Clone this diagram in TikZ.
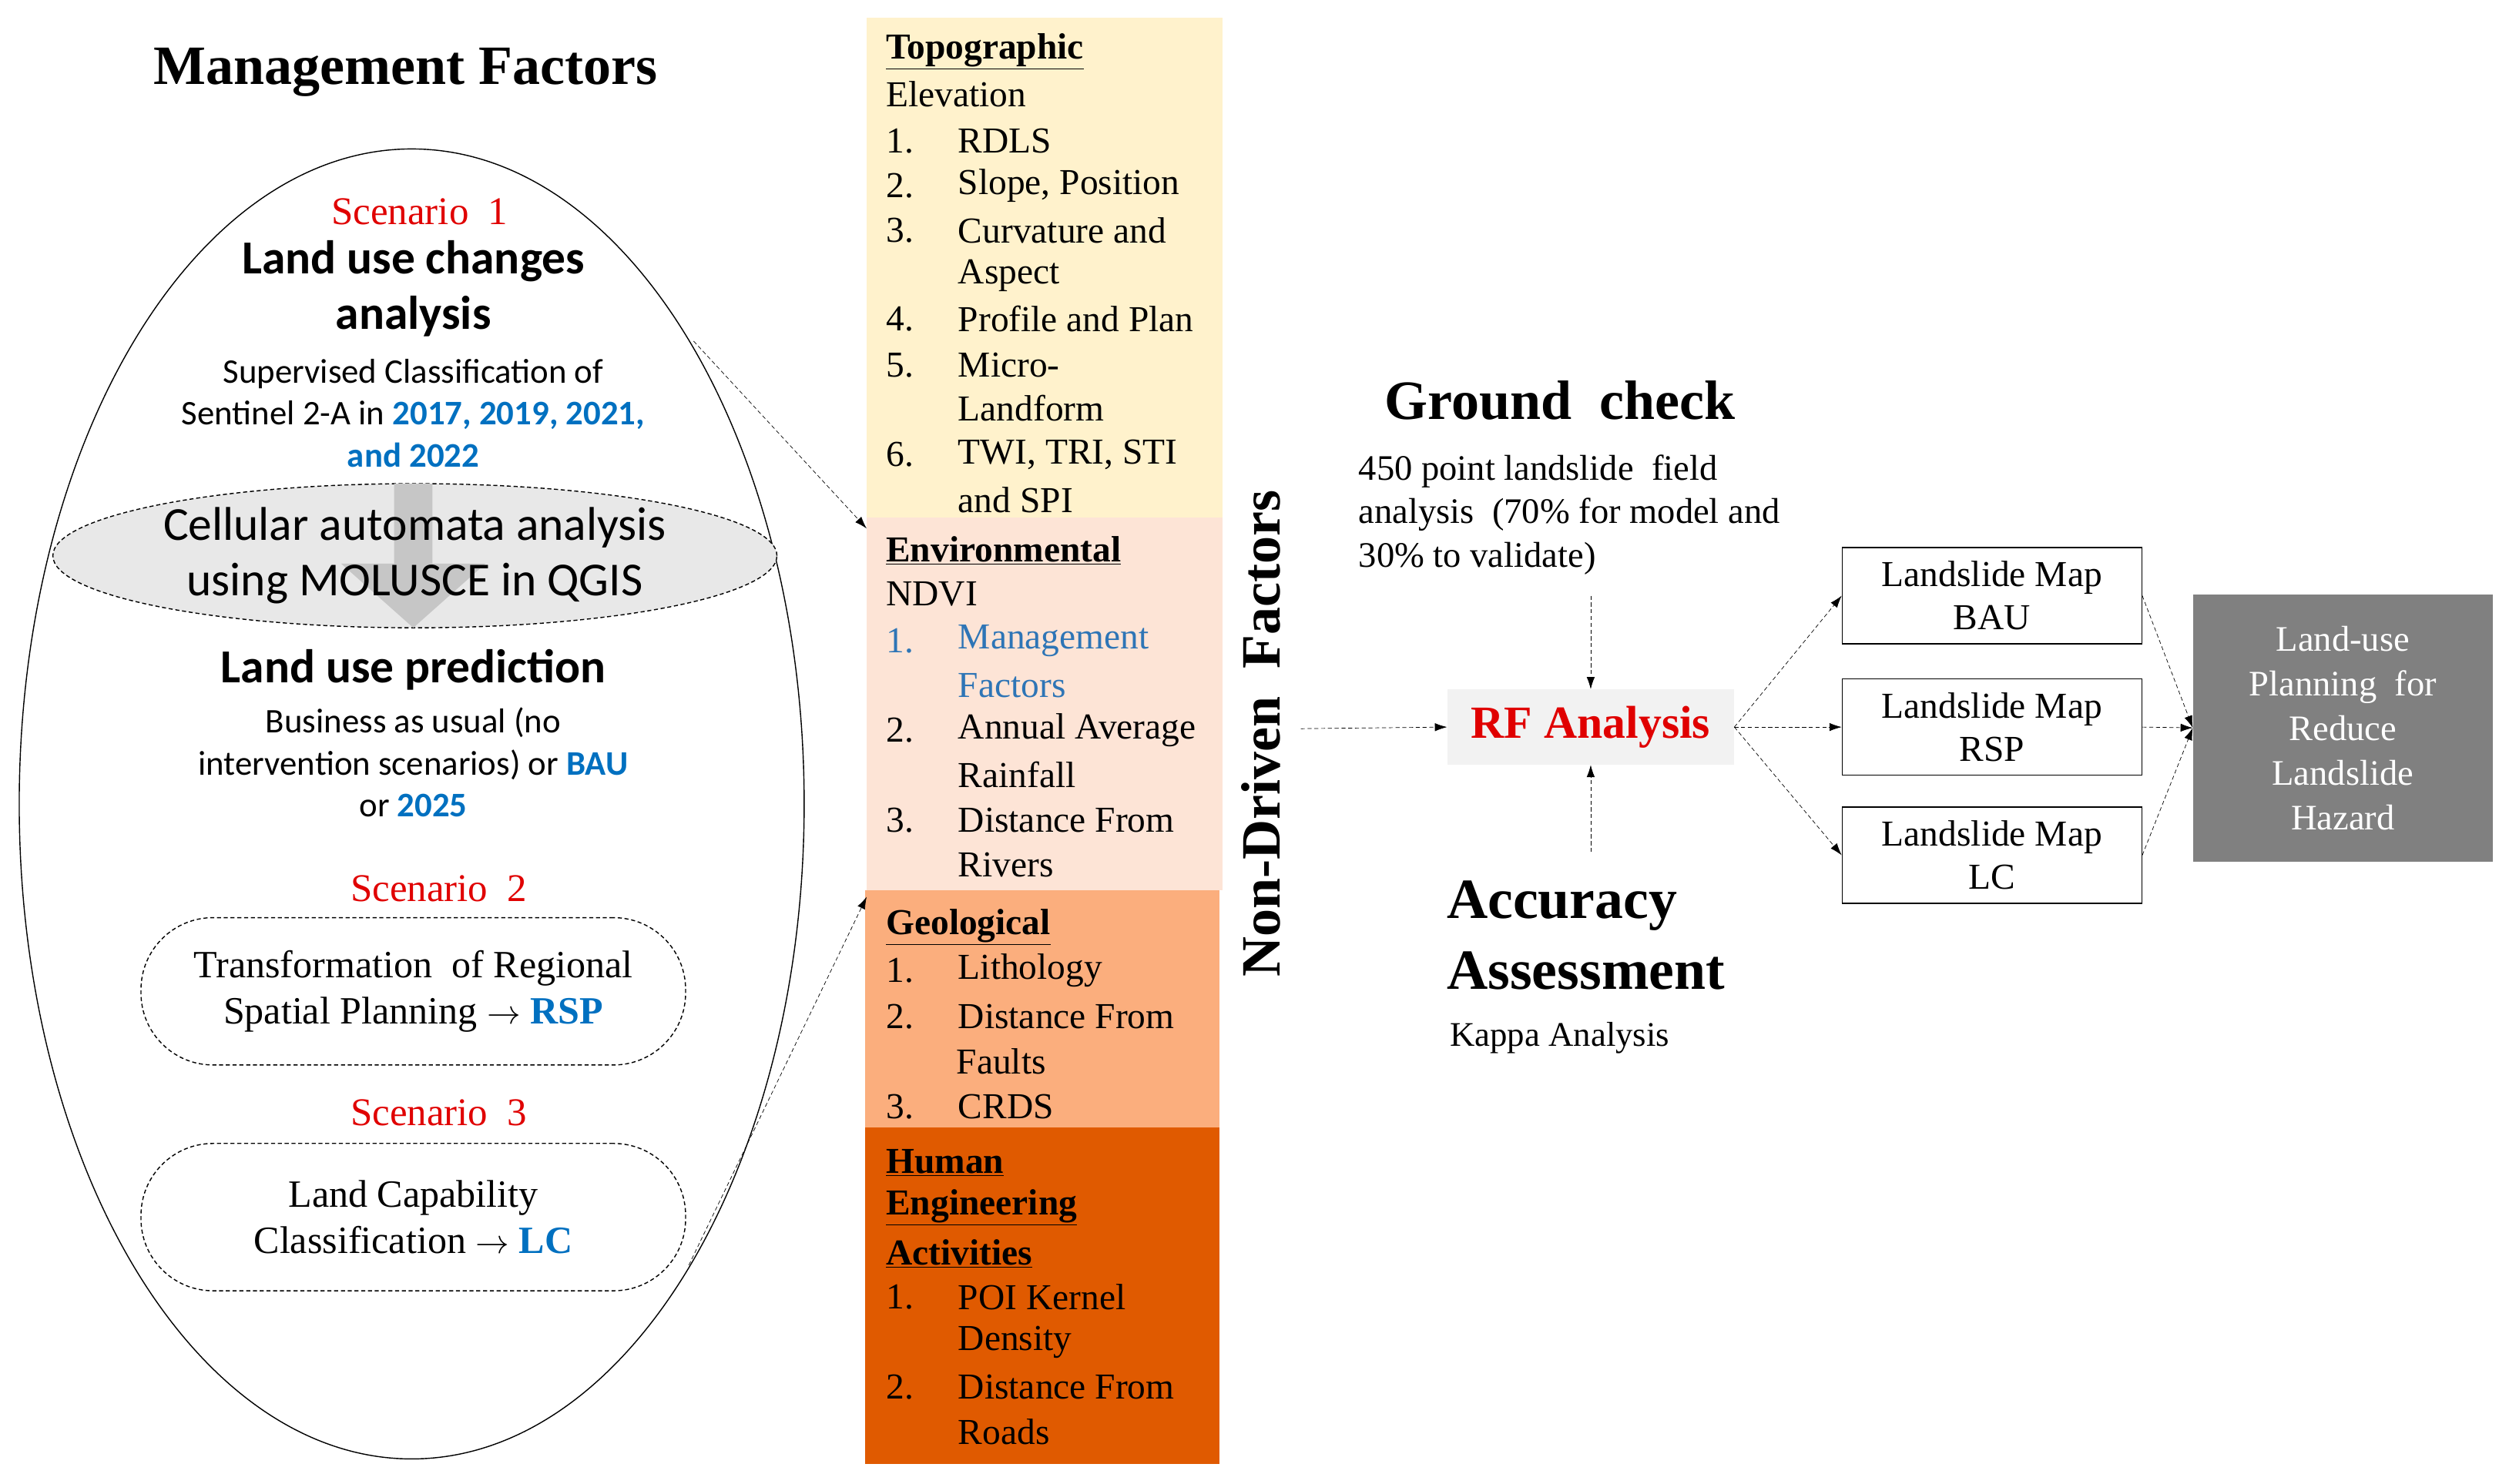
\documentclass[tikz,border=0pt]{standalone}
\usepackage{fontspec}
\setmainfont{Liberation Serif}
\newfontfamily\carl{Carlito}
\usetikzlibrary{arrows.meta,shapes.geometric}
\definecolor{topo}{HTML}{FFF2CC}
\definecolor{envc}{HTML}{FDE4D6}
\definecolor{geoc}{HTML}{FBAE7D}
\definecolor{humc}{HTML}{E05A00}
\definecolor{bl}{HTML}{0070C0}
\definecolor{bl2}{HTML}{2E75B6}
\definecolor{rd}{HTML}{E00000}
\begin{document}
\begin{tikzpicture}[x=0.04159cm,y=-0.04159cm,
  t/.style={inner sep=0pt,font=\fontsize{27}{33}\selectfont},
  lt/.style={t,anchor=west},
  cc/.style={inner sep=0pt,align=center,font=\carl\fontsize{25.5}{31}\selectfont},
  big/.style={inner sep=0pt,font=\fontsize{41}{48}\selectfont\bfseries},
  dar/.style={densely dashed,thin,-{Latex[length=9pt,width=6pt]}},
  lm/.style={draw,thick,minimum width=187*0.04159cm,minimum height=60*0.04159cm,align=center,inner sep=0pt,font=\fontsize{27}{32}\selectfont}]
\useasboundingbox (0,0) rectangle (1560,926.6);
% title
\node[big] (mt) at (253,45) {Management\ Factors};
% big ellipse
\node[draw,thick,ellipse,minimum width=490*0.04159cm,minimum height=818*0.04159cm] (bigell) at (257,502) {};
\node[t,text=rd,font=\fontsize{29}{33}\selectfont] (s1) at (262,132) {Scenario\ \ 1};
\node[cc,font=\carl\bfseries\fontsize{35}{41}\selectfont] (luc) at (258,180) {Land use changes\\analysis};
\node[cc] (sup) at (258,258) {Supervised Classification of\\Sentinel 2-A in \textcolor{bl}{\bfseries 2017, 2019, 2021,}\\\textcolor{bl}{\bfseries and 2022}};
\node[draw,densely dashed,thick,ellipse,fill=gray!18,minimum width=452*0.04159cm,minimum height=90*0.04159cm] (ca) at (259,347) {};
\fill[gray!45] (246,302) -- (270,302) -- (270,352) -- (303,352) -- (258,392) -- (213,352) -- (246,352) -- cycle;
\node[cc,font=\carl\fontsize{35}{41}\selectfont] (cat) at (259,347) {Cellular automata analysis\\using MOLUSCE in QGIS};
\node[cc,font=\carl\bfseries\fontsize{35}{41}\selectfont] (lup) at (258,418) {Land use prediction};
\node[cc] (bau) at (258,476) {Business as usual (no\\intervention scenarios) or \textcolor{bl}{\bfseries BAU}\\or \textcolor{bl}{\bfseries 2025}};
\node[t,text=rd,font=\fontsize{29}{33}\selectfont] (s2) at (274,555) {Scenario\ \ 2};
\node[draw,densely dashed,thick,rounded corners=45*0.04159cm,minimum width=340*0.04159cm,minimum height=92*0.04159cm,align=center,inner sep=0pt,font=\fontsize{28.5}{34}\selectfont] (rsp) at (258,619) {Transformation\ \ of Regional\\Spatial Planning $\rightarrow$ \textcolor{bl}{\textbf{RSP}}};
\node[t,text=rd,font=\fontsize{29}{33}\selectfont] (s3) at (274,695) {Scenario\ \ 3};
\node[draw,densely dashed,thick,rounded corners=45*0.04159cm,minimum width=340*0.04159cm,minimum height=92*0.04159cm,align=center,inner sep=0pt,font=\fontsize{28.5}{34}\selectfont] (lc) at (258,760) {Land Capability\\Classification $\rightarrow$ \textcolor{bl}{\textbf{LC}}};
% column
\fill[topo] (541,11) rectangle (763,323);
\fill[envc] (541,323) rectangle (763,556);
\fill[geoc] (540,556) rectangle (761,704);
\fill[humc] (540,704) rectangle (761,914);
\coordinate (topoW) at (541,330);
\coordinate (geoW) at (541,560);
\newcommand\hd[3]{\node[lt,font=\fontsize{27}{33}\selectfont\bfseries] (#1) at (553,#2) {\underline{#3}};}
\newcommand\itm[4]{\node[lt] (#1n) at (553,#2) {#3}; \node[lt] (#1t) at (598,#2) {#4};}
\newcommand\ct[3]{\node[lt] (#1) at (598,#2) {#3};}
\hd{h1}{32}{Topographic}
\node[lt] (elev) at (553,59) {Elevation};
\itm{a1}{88}{1.}{RDLS}
\itm{a2}{116}{2.}{Slope, Position}
\itm{a3}{144}{3.}{Curvature and}
\ct{a3b}{172}{Aspect}
\itm{a4}{199}{4.}{Profile and Plan}
\itm{a5}{228}{5.}{Micro-}
\ct{a5b}{255}{Landform}
\itm{a6}{284}{6.}{TWI, TRI, STI}
\ct{a6b}{312}{and SPI}
\hd{h2}{344}{Environmental}
\node[lt] (ndvi) at (553,371) {NDVI};
\node[lt,text=bl2] (b1n) at (553,400) {1.};
\node[lt,text=bl2] (b1t) at (598,400) {Management};
\node[lt,text=bl2] (b1b) at (598,428) {Factors};
\itm{b2}{456}{2.}{Annual Average}
\ct{b2b}{484}{Rainfall}
\itm{b3}{512}{3.}{Distance From}
\ct{b3b}{540}{Rivers}
\hd{h3}{579}{Geological}
\itm{c1}{606}{1.}{Lithology}
\itm{c2}{635}{2.}{Distance From}
\node[lt] (c2b) at (597,663) {Faults};
\itm{c3}{691}{3.}{CRDS}
\hd{h4}{726}{Human}
\hd{h4b}{754}{Engineering}
\hd{h4c}{783}{Activities}
\itm{d1}{810}{1.}{POI Kernel}
\ct{d1b}{838}{Density}
\itm{d2}{866}{2.}{Distance From}
\ct{d2b}{894}{Roads}
\node[big,rotate=90] (ndf) at (787,458) {Non-Driven\ \ Factors};
% right part
\node[big] (gc) at (974,250) {Ground\ \ check};
\node[t,anchor=north west,align=left,font=\fontsize{26.5}{32}\selectfont] (gct) at (848,284) {450 point landslide\ \ field\\analysis\ \ (70\% for model and\\30\% to validate)};
\node[fill=gray!10,minimum width=179*0.04159cm,minimum height=47*0.04159cm,inner sep=0pt,font=\fontsize{34}{38}\selectfont\bfseries,text=rd] (rf) at (993,454) {RF Analysis};
\node[big,anchor=west,align=left,font=\fontsize{42}{52}\selectfont\bfseries] (acc) at (903,584) {Accuracy\\Assessment};
\node[t,anchor=west,font=\fontsize{25.5}{30}\selectfont] (kap) at (905,648) {Kappa Analysis};
\coordinate (gcb) at (993,372);
\coordinate (accT) at (993,532);
\coordinate (ndfR) at (812,455);
\node[lm] (m1) at (1243.5,372) {Landslide Map\\BAU};
\node[lm] (m2) at (1243.5,454) {Landslide Map\\RSP};
\node[lm] (m3) at (1243.5,534) {Landslide Map\\LC};
\node[fill=black!50,minimum width=187*0.04159cm,minimum height=167*0.04159cm,inner sep=0pt,align=center,text=white,font=\fontsize{26.5}{33}\selectfont] (fin) at (1462.5,454.5) {Land-use\\Planning\ \ for\\Reduce\\Landslide\\Hazard};
% connectors
\draw[dar] (433,213) -- (topoW);
\draw[dar] (430,790) -- (geoW);
\draw[dar] (ndfR) -- (rf.west);
\draw[dar] (gcb) -- (rf.north);
\draw[dar] (accT) -- (rf.south);
\draw[dar] (rf.east) -- (m1.west);
\draw[dar] (rf.east) -- (m2.west);
\draw[dar] (rf.east) -- (m3.west);
\draw[dar] (m1.east) -- (fin.west);
\draw[dar] (m2.east) -- (fin.west);
\draw[dar] (m3.east) -- (fin.west);
\end{tikzpicture}
\end{document}
